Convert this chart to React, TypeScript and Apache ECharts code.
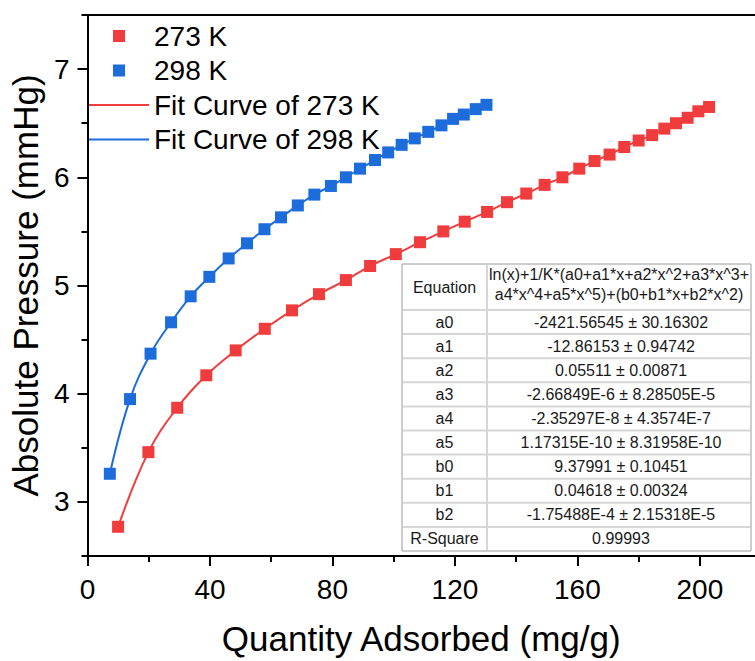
import React, { useEffect, useRef } from "react";
import * as echarts from "echarts";

// ---- data ----
const x273 = [10.0, 19.9, 29.3, 38.8, 48.4, 57.9, 66.8, 75.6, 84.4, 92.3, 100.7, 108.6, 116.2, 123.2, 130.5, 137.0, 143.3, 149.3, 155.1, 160.6, 165.6, 170.5, 175.3, 180.0, 184.4, 188.4, 192.2, 196.0, 199.5, 203.0];
const y273 = [2.77, 3.46, 3.87, 4.17, 4.40, 4.60, 4.77, 4.92, 5.05, 5.18, 5.29, 5.40, 5.50, 5.59, 5.68, 5.77, 5.85, 5.93, 6.00, 6.08, 6.15, 6.21, 6.28, 6.34, 6.39, 6.45, 6.50, 6.55, 6.61, 6.65];
const x298 = [7.3, 13.9, 20.6, 27.3, 33.7, 39.8, 46.1, 52.1, 57.8, 63.2, 68.7, 74.1, 79.5, 84.4, 89.0, 93.9, 98.2, 102.6, 106.9, 111.3, 115.6, 119.4, 122.9, 126.8, 130.3];
const y298 = [3.26, 3.95, 4.37, 4.66, 4.90, 5.08, 5.25, 5.39, 5.52, 5.63, 5.74, 5.84, 5.92, 6.00, 6.08, 6.16, 6.23, 6.30, 6.36, 6.42, 6.48, 6.54, 6.58, 6.63, 6.67];

const seriesNames = ["273 K", "298 K", "Fit Curve of 273 K", "Fit Curve of 298 K"];

const xMajorTicks = [0, 40, 80, 120, 160, 200];
const xMinorTicks = [20, 60, 100, 140, 180];
const yMajorTicks = [3, 4, 5, 6, 7];
const yMinorTicks = [2.5, 3.5, 4.5, 5.5, 6.5, 7.5];

const tableHeaderLabel = "Equation";
const tableEquation = ["ln(x)+1/K*(a0+a1*x+a2*x^2+a3*x^3+", "a4*x^4+a5*x^5)+(b0+b1*x+b2*x^2)"];
const paramNames = ["a0", "a1", "a2", "a3", "a4", "a5", "b0", "b1", "b2", "R-Square"];
const paramValues = [
  "-2421.56545 ± 30.16302",
  "-12.86153 ± 0.94742",
  "0.05511 ± 0.00871",
  "-2.66849E-6 ± 8.28505E-5",
  "-2.35297E-8 ± 4.3574E-7",
  "1.17315E-10 ± 8.31958E-10",
  "9.37991 ± 0.10451",
  "0.04618 ± 0.00324",
  "-1.75488E-4 ± 2.15318E-5",
  "0.99993",
];

const RED = "#F03C3C";
const BLUE = "#1C6CDC";
const FONT = "'Liberation Sans', Arial, Helvetica, sans-serif";
const SQUARE_ICON = "path://M0,0H10V10H0Z";
const LINE_ICON = "path://M0,0H60V2H0Z";

function pairs(xs: number[], ys: number[]) {
  return xs.map((x, i) => [x, ys[i]]);
}

function buildTable() {
  const left = 402;
  const top = 264;
  const right = 751;
  const divX = 487;
  const headerH = 46;
  const rowH = 24.1;
  const bottom = top + headerH + rowH * paramNames.length;
  const els: any[] = [];
  els.push({
    type: "rect",
    z: 100,
    shape: { x: left, y: top, width: right - left, height: bottom - top },
    style: { fill: "#ffffff", stroke: "#9a9a9a", lineWidth: 1 },
  });
  for (let i = 0; i < paramNames.length; i++) {
    const y = top + headerH + rowH * i;
    els.push({
      type: "line",
      z: 101,
      shape: { x1: left + 1, y1: y, x2: right - 1, y2: y },
      style: { stroke: "#d6d6d6", lineWidth: 2 },
    });
  }
  els.push({
    type: "line",
    z: 101,
    shape: { x1: divX, y1: top + 1, x2: divX, y2: bottom - 1 },
    style: { stroke: "#d6d6d6", lineWidth: 2 },
  });
  const tstyle = { fontSize: 16, fontFamily: FONT, fill: "#1a1a1a", align: "center", verticalAlign: "middle" };
  els.push({
    type: "text",
    z: 102,
    x: (left + divX) / 2,
    y: top + 23,
    style: { ...tstyle, text: tableHeaderLabel },
  });
  tableEquation.forEach((line, i) => {
    els.push({
      type: "text",
      z: 102,
      x: (divX + right) / 2,
      y: top + 10 + i * 20,
      style: { ...tstyle, text: line },
    });
  });
  paramNames.forEach((name, i) => {
    const cy = top + headerH + rowH * i + rowH / 2;
    els.push({ type: "text", z: 102, x: (left + divX) / 2, y: cy, style: { ...tstyle, text: name } });
    els.push({ type: "text", z: 102, x: (divX + right) / 2 + 2, y: cy, style: { ...tstyle, text: paramValues[i] } });
  });
  return els;
}

export default function App() {
  const ref = useRef<HTMLDivElement>(null);
  useEffect(() => {
    if (!ref.current) return;
    const chart = echarts.init(ref.current, undefined, { renderer: "svg" });
    const axisLineStyle = { color: "#000", width: 2 };
    const option: any = {
      animation: false,
      backgroundColor: "#ffffff",
      textStyle: { fontFamily: FONT },
      grid: { left: 87, right: 0, top: 15, bottom: 103, containLabel: false },
      legend: {
        orient: "vertical",
        left: 84,
        top: 17,
        padding: 5,
        itemWidth: 60,
        itemHeight: 12,
        itemGap: 6.5,
        symbolKeepAspect: true,
        data: [
          { name: seriesNames[0], icon: SQUARE_ICON },
          { name: seriesNames[1], icon: SQUARE_ICON },
          { name: seriesNames[2], icon: LINE_ICON },
          { name: seriesNames[3], icon: LINE_ICON },
        ],
        textStyle: { fontSize: 28, color: "#000", fontFamily: FONT, lineHeight: 28 },
      },
      xAxis: [
        {
          type: "value",
          position: "bottom",
          min: 0,
          max: 218,
          name: "Quantity Adsorbed (mg/g)",
          nameLocation: "middle",
          nameGap: 65,
          nameTextStyle: { fontSize: 35, color: "#000", fontFamily: FONT },
          axisLine: { show: true, onZero: false, lineStyle: axisLineStyle },
          axisTick: { show: true, customValues: xMajorTicks, length: 10, lineStyle: { color: "#000", width: 2 } },
          axisLabel: { customValues: xMajorTicks, fontSize: 28, color: "#000", margin: 19, fontFamily: FONT },
          splitLine: { show: false },
        },
        {
          type: "value",
          position: "bottom",
          min: 0,
          max: 218,
          axisLine: { show: false, onZero: false },
          axisTick: { show: true, customValues: xMinorTicks, length: 6, lineStyle: { color: "#000", width: 2 } },
          axisLabel: { show: false },
          splitLine: { show: false },
        },
        {
          type: "value",
          position: "top",
          min: 0,
          max: 218,
          axisLine: { show: true, onZero: false, lineStyle: axisLineStyle },
          axisTick: { show: false },
          axisLabel: { show: false },
          splitLine: { show: false },
        },
      ],
      yAxis: [
        {
          type: "value",
          position: "left",
          min: 2.5,
          max: 7.5,
          name: "Absolute Pressure (mmHg)",
          nameLocation: "middle",
          nameGap: 44,
          nameTextStyle: { fontSize: 35, color: "#000", fontFamily: FONT },
          axisLine: { show: true, onZero: false, lineStyle: axisLineStyle },
          axisTick: { show: true, customValues: yMajorTicks, length: 10, lineStyle: { color: "#000", width: 2 } },
          axisLabel: { customValues: yMajorTicks, fontSize: 28, color: "#000", margin: 18, fontFamily: FONT },
          splitLine: { show: false },
        },
        {
          type: "value",
          position: "left",
          min: 2.5,
          max: 7.5,
          axisLine: { show: false, onZero: false },
          axisTick: { show: true, customValues: yMinorTicks, length: 6, lineStyle: { color: "#000", width: 2 } },
          axisLabel: { show: false },
          splitLine: { show: false },
        },
      ],
      series: [
        {
          name: seriesNames[0],
          type: "scatter",
          symbol: "rect",
          symbolSize: 12,
          itemStyle: { color: RED, opacity: 1 },
          data: pairs(x273, y273),
          z: 4,
        },
        {
          name: seriesNames[1],
          type: "scatter",
          symbol: "rect",
          symbolSize: 12,
          itemStyle: { color: BLUE, opacity: 1 },
          data: pairs(x298, y298),
          z: 4,
        },
        {
          name: seriesNames[2],
          type: "line",
          symbol: "none",
          smooth: 0.4,
          lineStyle: { color: RED, width: 2 },
          itemStyle: { color: RED },
          data: pairs(x273, y273),
          z: 3,
        },
        {
          name: seriesNames[3],
          type: "line",
          symbol: "none",
          smooth: 0.4,
          lineStyle: { color: BLUE, width: 2 },
          itemStyle: { color: BLUE },
          data: pairs(x298, y298),
          z: 3,
        },
      ],
      graphic: buildTable(),
    };
    chart.setOption(option);
    return () => chart.dispose();
  }, []);
  return <div ref={ref} style={{ width: 755, height: 661, position: "absolute", left: 0, top: 0 }} />;
}
